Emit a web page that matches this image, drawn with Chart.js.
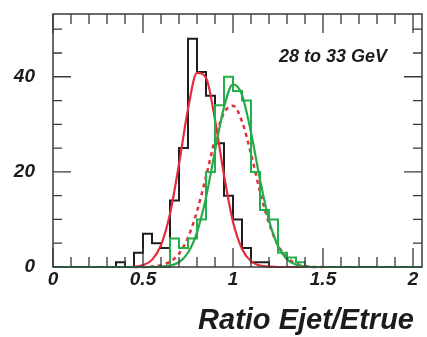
<!DOCTYPE html>
<html lang="en">
<head>
    <meta charset="UTF-8">
    <title>Ratio Ejet/Etrue</title>
    <script src="https://cdn.jsdelivr.net/npm/chart.js"></script>
    <style>
        body {
            margin: 0;
            padding: 0;
            background: #fff;
        }
        #wrap {
            width: 427px;
            height: 337px;
        }
    </style>
</head>
<body>
    <div id="wrap"><canvas id="chart"></canvas></div>
    <script>
        // histogram bins (lower edges), width 0.05
        const binLow = [0.35, 0.40, 0.45, 0.50, 0.55, 0.60, 0.65, 0.70, 0.75, 0.80, 0.85,
                        0.90, 0.95, 1.00, 1.05, 1.10, 1.15, 1.20, 1.25, 1.30, 1.35];
        const binWidth = 0.05;
        const blackCounts = [1, 0, 3, 7, 5, 4, 14, 25, 48, 41, 36, 26, 15, 10, 4, 1, 1, 0, 0, 0, 0];
        const greenCounts = [0, 0, 0, 0, 0, 0, 6, 4, 6, 10, 20, 34, 40, 37, 35, 20, 12, 10, 3, 2, 1];

        // fitted curves
        const fitX = [0.45, 0.50, 0.55, 0.60, 0.65, 0.70, 0.75, 0.80, 0.85, 0.90, 0.95,
                      1.00, 1.05, 1.10, 1.15, 1.20, 1.25, 1.30, 1.35, 1.40, 1.45, 1.50];
        const redFit = [0, 0.4, 1.5, 4.6, 11.2, 21.6, 33.2, 40.8, 39.8, 31, 19.3,
                        9.5, 3.8, 1.2, 0.3, 0.1, 0, 0, 0, 0, 0, 0];
        const redDotted = [0, 0, 0.1, 0.4, 1.1, 2.8, 6.2, 11.7, 19.0, 26.8, 32.4,
                           33.9, 30.6, 23.8, 15.9, 9.2, 4.6, 2.0, 0.7, 0.2, 0, 0];
        const greenFit = [0, 0, 0, 0.1, 0.3, 1.0, 3.0, 7.3, 14.6, 24.4, 33.6,
                          38.4, 36.2, 28.3, 18.4, 9.8, 4.4, 1.6, 0.5, 0.1, 0, 0];

        const xTicks = [0, 0.5, 1, 1.5, 2];
        const xTickLabels = ['0', '0.5', '1', '1.5', '2'];
        const yTicks = [0, 20, 40];
        const yTickLabels = ['0', '20', '40'];
        const xTitle = 'Ratio Ejet/Etrue';
        const note = '28 to 33 GeV';

        const xMin = 0, xMax = 2.05, yMin = 0, yMax = 53.2;

        function histPoints(counts, full) {
            const pts = [];
            if (full) pts.push({ x: xMin, y: 0 });
            pts.push({ x: binLow[0], y: 0 });
            counts.forEach((c, i) => pts.push({ x: binLow[i], y: c }));
            pts.push({ x: binLow[binLow.length - 1] + binWidth, y: 0 });
            if (full) pts.push({ x: xMax, y: 0 });
            return pts;
        }

        function curve(vals) {
            return fitX.map((x, i) => ({ x: x, y: vals[i] }));
        }

        const FONT = '"Liberation Sans", Arial, sans-serif';

        // frame with inward ticks plus the texts
        const framePlugin = {
            id: 'frame',
            afterDraw(chart) {
                const ctx = chart.ctx;
                const a = chart.chartArea;
                const xs = chart.scales.x, ys = chart.scales.y;
                ctx.save();
                ctx.strokeStyle = '#3a3a3a';
                ctx.lineWidth = 1.5;
                ctx.strokeRect(a.left, a.top, a.right - a.left, a.bottom - a.top);

                ctx.lineWidth = 1.3;
                ctx.beginPath();
                for (let i = 0; i <= 20; i++) {
                    const v = i / 10;
                    const px = xs.getPixelForValue(v);
                    const len = (i % 5 === 0) ? 19 : 10;
                    ctx.moveTo(px, a.top); ctx.lineTo(px, a.top + len);
                    ctx.moveTo(px, a.bottom); ctx.lineTo(px, a.bottom - len);
                }
                for (let v = 5; v < yMax; v += 5) {
                    const py = ys.getPixelForValue(v);
                    const len = (v % 20 === 0) ? 18 : 9;
                    ctx.moveTo(a.left, py); ctx.lineTo(a.left + len, py);
                    ctx.moveTo(a.right, py); ctx.lineTo(a.right - len, py);
                }
                ctx.stroke();

                ctx.fillStyle = '#1c1c1c';
                ctx.textAlign = 'center';
                ctx.textBaseline = 'middle';
                ctx.font = 'italic bold 18px ' + FONT;
                ctx.fillText(note, 333, 57);

                ctx.textAlign = 'right';
                ctx.textBaseline = 'alphabetic';
                ctx.font = 'italic bold 29px ' + FONT;
                ctx.fillText(xTitle, 414, 329);
                ctx.restore();
            }
        };

        new Chart(document.getElementById('chart'), {
            type: 'line',
            data: {
                datasets: [
                    {
                        label: 'green fit',
                        data: curve(greenFit),
                        borderColor: '#2aa84a',
                        borderWidth: 2.2,
                        cubicInterpolationMode: 'monotone',
                        order: 1
                    },
                    {
                        label: 'green',
                        data: histPoints(greenCounts, true),
                        borderColor: '#22b04a',
                        borderWidth: 2,
                        stepped: 'before',
                        order: 2
                    },
                    {
                        label: 'red dotted',
                        data: curve(redDotted),
                        borderColor: '#e0303c',
                        borderWidth: 2.5,
                        borderDash: [4, 4],
                        cubicInterpolationMode: 'monotone',
                        order: 3
                    },
                    {
                        label: 'red fit',
                        data: curve(redFit),
                        borderColor: '#e52b3a',
                        borderWidth: 2.2,
                        cubicInterpolationMode: 'monotone',
                        order: 4
                    },
                    {
                        label: 'black',
                        data: histPoints(blackCounts, false),
                        borderColor: '#1e1e1e',
                        borderWidth: 2,
                        stepped: 'before',
                        order: 5
                    }
                ]
            },
            options: {
                responsive: true,
                maintainAspectRatio: false,
                animation: false,
                parsing: false,
                layout: { padding: { top: 14, right: 5, left: 0, bottom: 0 } },
                elements: { point: { radius: 0 }, line: { fill: false } },
                datasets: { line: { clip: false } },
                plugins: {
                    legend: { display: false },
                    tooltip: { enabled: false }
                },
                scales: {
                    x: {
                        type: 'linear',
                        min: xMin,
                        max: xMax,
                        grid: { display: false, drawTicks: false },
                        border: { display: false },
                        afterBuildTicks: s => { s.ticks = xTicks.map(v => ({ value: v })); },
                        afterFit: s => { s.height = 70; s.paddingLeft = 0; s.paddingRight = 0; },
                        ticks: {
                            padding: 1,
                            maxRotation: 0,
                            color: '#1c1c1c',
                            font: { family: FONT, size: 19, weight: 'bold', style: 'italic' },
                            callback: v => xTickLabels[xTicks.indexOf(v)]
                        }
                    },
                    y: {
                        type: 'linear',
                        min: yMin,
                        max: yMax,
                        grid: { display: false, drawTicks: false },
                        border: { display: false },
                        afterBuildTicks: s => { s.ticks = yTicks.map(v => ({ value: v })); },
                        afterFit: s => { s.width = 53; s.paddingTop = 0; s.paddingBottom = 0; },
                        ticks: {
                            padding: 18,
                            color: '#1c1c1c',
                            font: { family: FONT, size: 19, weight: 'bold', style: 'italic' },
                            callback: v => yTickLabels[yTicks.indexOf(v)]
                        }
                    }
                }
            },
            plugins: [framePlugin]
        });
    </script>
</body>
</html>
